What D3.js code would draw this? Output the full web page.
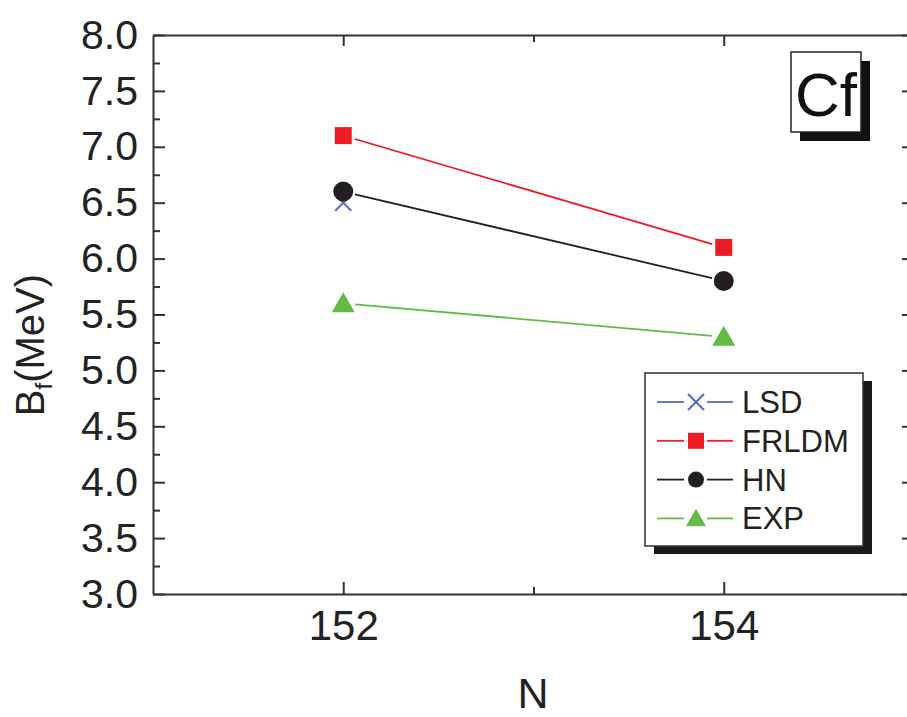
<!DOCTYPE html>
<html>
<head>
<meta charset="utf-8">
<script src="https://cdn.jsdelivr.net/npm/d3@7"></script>
<style>
  html, body { margin: 0; padding: 0; background: #fff; }
  svg { display: block; font-family: "Liberation Sans", Arial, Helvetica, sans-serif; }
</style>
</head>
<body>
<svg id="chart" width="907" height="717"></svg>
<script>
// Neutron numbers on the x axis
const neutronNumbers = [152, 154];

// Fission barrier heights B_f (MeV) for Cf isotopes
const lsdValues   = [6.5, null];
const frldmValues = [7.1, 6.1];
const hnValues    = [6.6, 5.8];
const expValues   = [5.6, 5.3];

const seriesNames = ["LSD", "FRLDM", "HN", "EXP"];

const yTickValues = [3.0, 3.5, 4.0, 4.5, 5.0, 5.5, 6.0, 6.5, 7.0, 7.5, 8.0];
const xTickValues = [152, 154];

const series = [
  { name: seriesNames[0], values: lsdValues,   color: "#5a6cb4", marker: "cross" },
  { name: seriesNames[1], values: frldmValues, color: "#ed1c24", marker: "square" },
  { name: seriesNames[2], values: hnValues,    color: "#231f20", marker: "circle" },
  { name: seriesNames[3], values: expValues,   color: "#62bb47", marker: "triangle" }
];

const svg = d3.select("#chart");
const axisColor = "#333";

const x = d3.scaleLinear().domain([151, 155]).range([153, 914]);
const y = d3.scaleLinear().domain([3, 8]).range([594, 35]);

// Marker shapes, sizes in px
function markerPath(type, s) {
  const h = s / 2;
  switch (type) {
    case "square":
      return `M${-h},${-h}H${h}V${h}H${-h}Z`;
    case "circle": {
      const p = d3.path(); p.arc(0, 0, h, 0, 2 * Math.PI); p.closePath(); return p.toString();
    }
    case "triangle": {
      const th = s * 0.87;
      return `M0,${-th * 0.55}L${h},${th * 0.45}L${-h},${th * 0.45}Z`;
    }
    case "cross":
      return `M${-h},${-h}L${h},${h}M${-h},${h}L${h},${-h}`;
  }
}
function drawMarker(g, type, color, cx, cy, s) {
  const p = g.append("path")
    .attr("d", markerPath(type, s))
    .attr("transform", `translate(${cx},${cy})`);
  if (type === "cross") {
    p.attr("fill", "none").attr("stroke", color).attr("stroke-width", 2);
  } else {
    p.attr("fill", color).attr("stroke", "none");
  }
}
const plotSize = { square: 17, circle: 20, triangle: 23, cross: 16 };
const legendSize = { square: 16, circle: 16, triangle: 20, cross: 16 };

// Axes: ticks point into the plot on all four sides
const gAxes = svg.append("g");

function styleAxis(g) {
  g.select(".domain").attr("stroke", axisColor).attr("stroke-width", 2);
  g.selectAll(".tick line").attr("stroke", axisColor).attr("stroke-width", 2);
  g.selectAll(".tick text").attr("fill", "#222").attr("font-family", null);
}

const yMinor = d3.range(3.25, 8, 0.5);
const xMinor = [153];

// left
gAxes.append("g").attr("transform", `translate(${x(151)},0)`)
  .call(d3.axisLeft(y).tickValues(yTickValues).tickSizeInner(-12).tickSizeOuter(0)
        .tickPadding(15).tickFormat(d3.format(".1f")))
  .call(styleAxis)
  .call(g => g.selectAll(".tick text").attr("font-size", 41));
gAxes.append("g").attr("transform", `translate(${x(151)},0)`)
  .call(d3.axisLeft(y).tickValues(yMinor).tickSizeInner(-7).tickSizeOuter(0).tickFormat(""))
  .call(styleAxis).call(g => g.select(".domain").remove());

// right
gAxes.append("g").attr("transform", `translate(${x(155)},0)`)
  .call(d3.axisRight(y).tickValues(yTickValues).tickSizeInner(-12).tickSizeOuter(0).tickFormat(""))
  .call(styleAxis);
gAxes.append("g").attr("transform", `translate(${x(155)},0)`)
  .call(d3.axisRight(y).tickValues(yMinor).tickSizeInner(-7).tickSizeOuter(0).tickFormat(""))
  .call(styleAxis).call(g => g.select(".domain").remove());

// bottom
gAxes.append("g").attr("transform", `translate(0,${y(3)})`)
  .call(d3.axisBottom(x).tickValues(xTickValues).tickSizeInner(-12).tickSizeOuter(0)
        .tickPadding(16).tickFormat(d3.format("d")))
  .call(styleAxis)
  .call(g => g.selectAll(".tick text").attr("font-size", 42));
gAxes.append("g").attr("transform", `translate(0,${y(3)})`)
  .call(d3.axisBottom(x).tickValues(xMinor).tickSizeInner(-7).tickSizeOuter(0).tickFormat(""))
  .call(styleAxis).call(g => g.select(".domain").remove());

// top
gAxes.append("g").attr("transform", `translate(0,${y(8)})`)
  .call(d3.axisTop(x).tickValues(xTickValues).tickSizeInner(-11).tickSizeOuter(0).tickFormat(""))
  .call(styleAxis);
gAxes.append("g").attr("transform", `translate(0,${y(8)})`)
  .call(d3.axisTop(x).tickValues(xMinor).tickSizeInner(-7).tickSizeOuter(0).tickFormat(""))
  .call(styleAxis).call(g => g.select(".domain").remove());

// Axis titles
svg.append("text")
  .attr("x", 533).attr("y", 708)
  .attr("text-anchor", "middle").attr("font-size", 43).attr("fill", "#222")
  .text("N");

const yTitle = svg.append("text")
  .attr("transform", "translate(44,345) rotate(-90)")
  .attr("text-anchor", "middle").attr("font-size", 40).attr("fill", "#222");
yTitle.append("tspan").text("B");
yTitle.append("tspan").attr("font-size", 24).attr("dy", 8).text("f");
yTitle.append("tspan").attr("dy", -8).text("(MeV)");

// Series: segments stop short of the markers
const gap = 12;
const gLines = svg.append("g");
const gMarks = svg.append("g");
series.forEach(s => {
  const pts = neutronNumbers
    .map((n, i) => ({ n, v: s.values[i] }))
    .filter(d => d.v != null)
    .map(d => [x(d.n), y(d.v)]);
  for (let i = 0; i < pts.length - 1; i++) {
    const [x0, y0] = pts[i], [x1, y1] = pts[i + 1];
    const len = Math.hypot(x1 - x0, y1 - y0);
    const ux = (x1 - x0) / len, uy = (y1 - y0) / len;
    gLines.append("line")
      .attr("x1", x0 + ux * gap).attr("y1", y0 + uy * gap)
      .attr("x2", x1 - ux * gap).attr("y2", y1 - uy * gap)
      .attr("stroke", s.color).attr("stroke-width", 1.8);
  }
  pts.forEach(([cx, cy]) => drawMarker(gMarks, s.marker, s.color, cx, cy, plotSize[s.marker]));
});

// Element label box with drop shadow
const labelBox = { x: 791, y: 52, w: 70, h: 80 };
svg.append("rect")
  .attr("x", labelBox.x + 9).attr("y", labelBox.y + 9)
  .attr("width", labelBox.w).attr("height", labelBox.h).attr("fill", "#111");
svg.append("rect")
  .attr("x", labelBox.x).attr("y", labelBox.y)
  .attr("width", labelBox.w).attr("height", labelBox.h)
  .attr("fill", "#fff").attr("stroke", "#222").attr("stroke-width", 1.5);
svg.append("text")
  .attr("x", labelBox.x + labelBox.w / 2).attr("y", 116)
  .attr("text-anchor", "middle").attr("font-size", 62).attr("fill", "#111")
  .text("Cf");

// Legend with drop shadow
const legendBox = { x: 645, y: 373, w: 218, h: 173 };
svg.append("rect")
  .attr("x", legendBox.x + 9).attr("y", legendBox.y + 8)
  .attr("width", legendBox.w).attr("height", legendBox.h).attr("fill", "#1a1a1a");
svg.append("rect")
  .attr("x", legendBox.x).attr("y", legendBox.y)
  .attr("width", legendBox.w).attr("height", legendBox.h)
  .attr("fill", "#fff").attr("stroke", "#333").attr("stroke-width", 1.5);

const gLegend = svg.append("g");
series.forEach((s, i) => {
  const cy = 402 + i * 38.8;
  const row = gLegend.append("g");
  row.append("line").attr("x1", 657).attr("x2", 684).attr("y1", cy).attr("y2", cy)
    .attr("stroke", s.color).attr("stroke-width", 1.8);
  row.append("line").attr("x1", 707).attr("x2", 733).attr("y1", cy).attr("y2", cy)
    .attr("stroke", s.color).attr("stroke-width", 1.8);
  drawMarker(row, s.marker, s.color, 696, cy, legendSize[s.marker]);
  row.append("text").attr("x", 742).attr("y", cy + 11)
    .attr("font-size", 31).attr("fill", "#222").text(s.name);
});
</script>
</body>
</html>
